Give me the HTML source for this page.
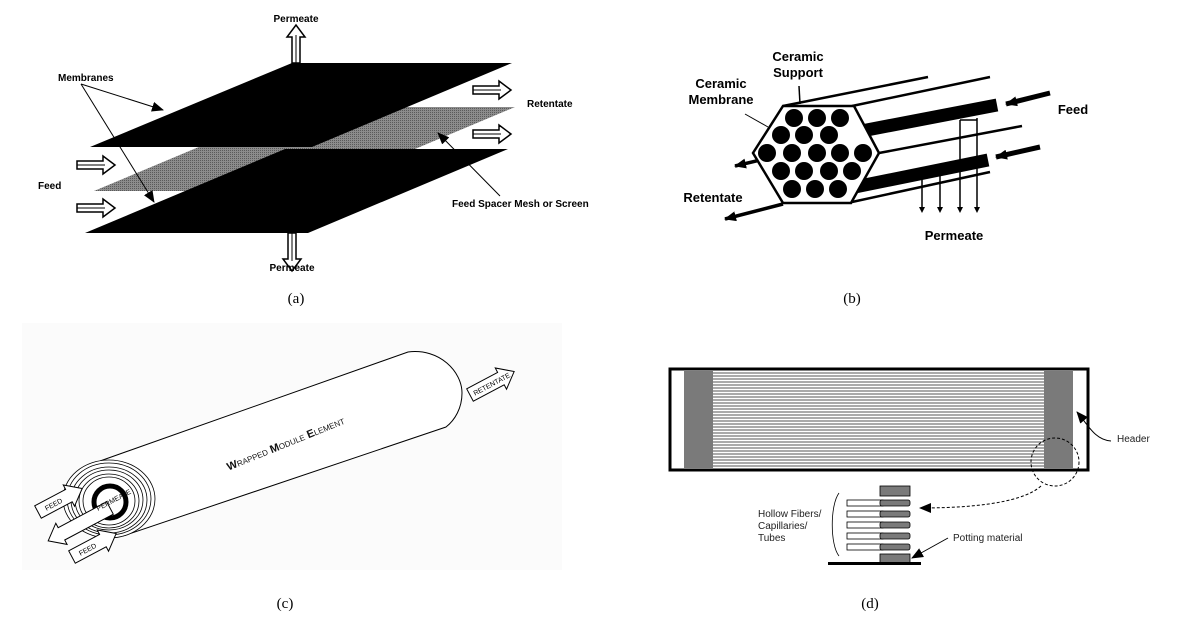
<!DOCTYPE html>
<html><head><style>
html,body{margin:0;padding:0;background:#fff;}
svg{display:block;}
text{font-family:"Liberation Sans",Arial,sans-serif;}
.l{font-family:"Liberation Serif",serif;font-size:15px;}
</style></head><body>
<svg width="1200" height="627" viewBox="0 0 1200 627" xmlns="http://www.w3.org/2000/svg">
<defs>
<pattern id="mesh" width="2" height="2" patternUnits="userSpaceOnUse"><rect width="2" height="2" fill="#8c8c8c"/><rect width="1" height="1" fill="#5a5a5a"/></pattern>
<marker id="ah2" markerWidth="12" markerHeight="10" refX="11" refY="5" orient="auto" markerUnits="userSpaceOnUse"><path d="M0,0 L12,5 L0,10 z" fill="#000"/></marker>
<g id="harrow"><path d="M0,-4 L26,-4 L26,-9 L38,0 L26,9 L26,4 L0,4 z" fill="#fff" stroke="#000" stroke-width="1.5"/><line x1="0" y1="0" x2="28" y2="0" stroke="#000" stroke-width="1"/></g>
</defs>

<!-- (a) -->
<text x="296" y="22" font-size="10" font-weight="bold" text-anchor="middle">Permeate</text>
<g transform="translate(296,63) rotate(-90)"><use href="#harrow"/></g>
<polygon points="294,107 515,107 315,191 94,191" fill="url(#mesh)"/>
<polygon points="292,63 512,63 312,147 90,147" fill="#000"/>
<polygon points="285,149 508,149 308,233 85,233" fill="#000"/>
<g transform="translate(292,233) rotate(90)"><use href="#harrow"/></g>
<text x="292" y="271" font-size="10" font-weight="bold" text-anchor="middle">Permeate</text>
<text x="58" y="81" font-size="10" font-weight="bold">Membranes</text>
<line x1="81" y1="84" x2="163" y2="110" stroke="#000" marker-end="url(#ah2)"/>
<line x1="81" y1="84" x2="154" y2="202" stroke="#000" marker-end="url(#ah2)"/>
<text x="38" y="189" font-size="10" font-weight="bold">Feed</text>
<g transform="translate(77,165)"><use href="#harrow"/></g>
<g transform="translate(77,208)"><use href="#harrow"/></g>
<g transform="translate(473,90)"><use href="#harrow"/></g>
<g transform="translate(473,134)"><use href="#harrow"/></g>
<text x="527" y="107" font-size="10" font-weight="bold">Retentate</text>
<text x="452" y="207" font-size="10" font-weight="bold">Feed Spacer Mesh or Screen</text>
<line x1="500" y1="196" x2="438" y2="133" stroke="#000" marker-end="url(#ah2)"/>
<text x="296" y="303" class="l" text-anchor="middle">(a)</text>

<!-- (b) -->
<g stroke="#000" fill="none">
<line x1="783" y1="106" x2="928" y2="77" stroke-width="2.5"/>
<line x1="852" y1="106" x2="990" y2="77" stroke-width="2.5"/>
<line x1="879" y1="153" x2="1022" y2="126" stroke-width="2.5"/>
<line x1="852" y1="202" x2="990" y2="172" stroke-width="2.5"/>
<line x1="846" y1="134" x2="997" y2="105" stroke-width="13"/>
<line x1="850" y1="188" x2="988" y2="160" stroke-width="13"/>
<line x1="783" y1="204" x2="725" y2="219" stroke-width="3.5" marker-end="url(#ah2)"/>
<line x1="773" y1="157" x2="735" y2="166" stroke-width="3.5" marker-end="url(#ah2)"/>
<line x1="1050" y1="93" x2="1006" y2="104" stroke-width="5" marker-end="url(#ah2)"/>
<line x1="1040" y1="147" x2="996" y2="157" stroke-width="5" marker-end="url(#ah2)"/>
<polygon points="783,106 854,106 879,153 851,203 783,203 753,153" fill="#fff" stroke-width="2.5"/>
<path d="M922,178 V211 M940,172 V211 M960,120 V211 M977,118 V211 M960,120 H977" stroke-width="1.5"/>
</g>
<g fill="#000" stroke="none">
<path d="M922,213 l-3,-6 h6z M940,213 l-3,-6 h6z M960,213 l-3,-6 h6z M977,213 l-3,-6 h6z"/>
<circle cx="794" cy="118" r="9"/><circle cx="817" cy="118" r="9"/><circle cx="840" cy="118" r="9"/>
<circle cx="781" cy="135" r="9"/><circle cx="804" cy="135" r="9"/><circle cx="829" cy="135" r="9"/>
<circle cx="767" cy="153" r="9"/><circle cx="792" cy="153" r="9"/><circle cx="817" cy="153" r="9"/><circle cx="840" cy="153" r="9"/><circle cx="863" cy="153" r="9"/>
<circle cx="781" cy="171" r="9"/><circle cx="804" cy="171" r="9"/><circle cx="829" cy="171" r="9"/><circle cx="852" cy="171" r="9"/>
<circle cx="792" cy="189" r="9"/><circle cx="815" cy="189" r="9"/><circle cx="838" cy="189" r="9"/>
</g>
<line x1="799" y1="86" x2="800" y2="104" stroke="#000" stroke-width="1.5"/>
<line x1="745" y1="114" x2="768" y2="127" stroke="#000" stroke-width="1"/>
<g font-size="13" font-weight="bold" text-anchor="middle">
<text x="798" y="61">Ceramic</text><text x="798" y="77">Support</text>
<text x="721" y="88">Ceramic</text><text x="721" y="104">Membrane</text>
<text x="1073" y="114">Feed</text>
<text x="713" y="202">Retentate</text>
<text x="954" y="240">Permeate</text>
</g>
<text x="852" y="303" class="l" text-anchor="middle">(b)</text>

<!-- (c) -->
<rect x="22" y="323" width="540" height="247" fill="#fbfbfb"/>
<path d="M100,461 L408,352 C440,348 462,372 462,393 C462,408 455,420 446,427 L123,536" fill="#fff" stroke="#000" stroke-width="1"/>
<g fill="none" stroke="#000" stroke-width="0.8">
<ellipse cx="109" cy="499" rx="46" ry="39" fill="#fff"/>
<ellipse cx="109" cy="499" rx="42" ry="36"/>
<ellipse cx="109" cy="500" rx="38" ry="33"/>
<ellipse cx="109" cy="500" rx="34" ry="30"/>
<ellipse cx="109" cy="501" rx="30" ry="27"/>
<ellipse cx="109" cy="501" rx="26" ry="24"/>
</g>
<ellipse cx="110" cy="502" rx="16" ry="16" fill="none" stroke="#000" stroke-width="5"/>
<text x="287" y="447" font-size="11" transform="rotate(-22 287 447)" text-anchor="middle" fill="#111" font-weight="bold">W<tspan font-size="8" font-weight="normal">RAPPED</tspan> M<tspan font-size="8" font-weight="normal">ODULE</tspan> E<tspan font-size="8" font-weight="normal">LEMENT</tspan></text>
<g transform="translate(470,395) rotate(-28)"><path d="M0,-7 L35,-7 L35,-12 L50,0 L35,12 L35,7 L0,7z" fill="#fff" stroke="#000"/><text x="4" y="3" font-size="7">RETENTATE</text></g>
<g transform="translate(38,512) rotate(-28)"><path d="M0,-7 L35,-7 L35,-12 L50,0 L35,12 L35,7 L0,7z" fill="#fff" stroke="#000"/><text x="8" y="3" font-size="7">FEED</text></g>
<g transform="translate(110,508) rotate(152)"><path d="M0,-7 L55,-7 L55,-12 L70,0 L55,12 L55,7 L0,7z" fill="#fff" stroke="#000"/><text x="58" y="-3" font-size="7" transform="rotate(180 35 0)">PERMEATE</text></g>
<g transform="translate(72,557) rotate(-28)"><path d="M0,-7 L35,-7 L35,-12 L50,0 L35,12 L35,7 L0,7z" fill="#fff" stroke="#000"/><text x="8" y="3" font-size="7">FEED</text></g>
<text x="285" y="608" class="l" text-anchor="middle">(c)</text>

<!-- (d) -->
<rect x="670" y="369" width="418" height="101" fill="#fff" stroke="#000" stroke-width="3"/>
<rect x="684" y="371" width="29" height="97" fill="#7a7a7a"/>
<rect x="1044" y="371" width="29" height="97" fill="#7a7a7a"/>
<g stroke="#555" stroke-width="1">
<path d="M713,373H1044M713,376H1044M713,379H1044M713,382H1044M713,385H1044M713,388H1044M713,391H1044M713,394H1044M713,397H1044M713,400H1044M713,403H1044M713,406H1044M713,409H1044M713,412H1044M713,415H1044M713,418H1044M713,421H1044M713,424H1044M713,427H1044M713,430H1044M713,433H1044M713,436H1044M713,439H1044M713,442H1044M713,445H1044M713,448H1044M713,451H1044M713,454H1044M713,457H1044M713,460H1044M713,463H1044M713,466H1044"/>
</g>
<circle cx="1055" cy="462" r="24" fill="none" stroke="#000" stroke-width="1" stroke-dasharray="3,2"/>
<path d="M1111,441 C1095,440 1088,425 1077,412" fill="none" stroke="#000" marker-end="url(#ah2)"/>
<text x="1117" y="442" font-size="10" fill="#222">Header</text>
<path d="M1041,486 C1020,505 960,508 920,508" fill="none" stroke="#000" stroke-dasharray="3,2" marker-end="url(#ah2)"/>
<g stroke="#000" stroke-width="0.8" fill="#fff">
<rect x="847" y="500" width="36" height="6"/><rect x="847" y="511" width="36" height="6"/><rect x="847" y="522" width="36" height="6"/><rect x="847" y="533" width="36" height="6"/><rect x="847" y="544" width="36" height="6"/>
</g>
<g fill="#7a7a7a" stroke="#000" stroke-width="0.8">
<rect x="880" y="486" width="30" height="10"/>
<rect x="880" y="500" width="30" height="6" rx="2"/><rect x="880" y="511" width="30" height="6" rx="2"/><rect x="880" y="522" width="30" height="6" rx="2"/><rect x="880" y="533" width="30" height="6" rx="2"/><rect x="880" y="544" width="30" height="6" rx="2"/>
<rect x="880" y="554" width="30" height="9"/>
</g>
<rect x="828" y="562" width="93" height="3" fill="#000"/>
<path d="M839,493 C830,505 830,545 839,556" fill="none" stroke="#000" stroke-width="0.8"/>
<g font-size="10" fill="#222"><text x="758" y="517">Hollow Fibers/</text><text x="758" y="529">Capillaries/</text><text x="758" y="541">Tubes</text>
<text x="953" y="541">Potting material</text></g>
<line x1="948" y1="538" x2="912" y2="558" stroke="#000" marker-end="url(#ah2)"/>
<text x="870" y="608" class="l" text-anchor="middle">(d)</text>
</svg>
</body></html>
